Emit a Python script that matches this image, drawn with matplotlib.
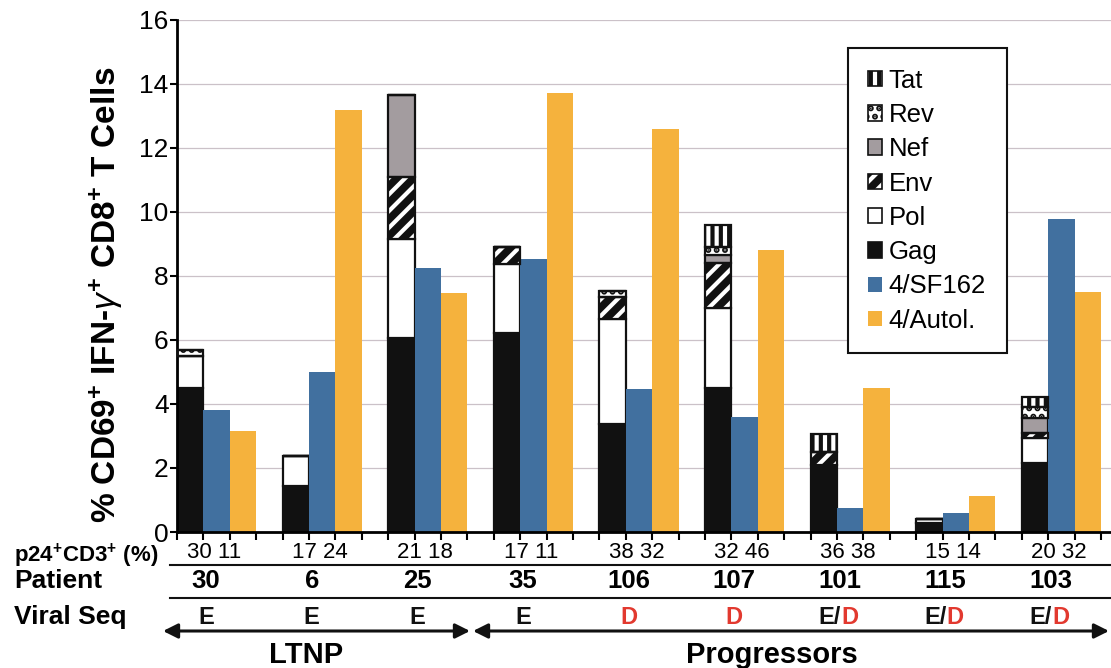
import matplotlib
matplotlib.use("Agg")
import matplotlib.pyplot as plt
from matplotlib.patches import Patch
from matplotlib.legend_handler import HandlerTuple
import matplotlib.transforms as mtransforms

plt.rcParams['font.family'] = ['Liberation Sans', 'DejaVu Sans']
plt.rcParams['mathtext.fontset'] = 'custom'
plt.rcParams['mathtext.rm'] = 'Liberation Sans'
plt.rcParams['mathtext.it'] = 'Liberation Sans:italic'
plt.rcParams['mathtext.bf'] = 'Liberation Sans:bold'
plt.rcParams['hatch.linewidth'] = 3.0

# ---------------- data ----------------
patients = ['30', '6', '25', '35', '106', '107', '101', '115', '103']
gag = [4.5, 1.44, 6.06, 6.22, 3.37, 4.5, 2.1, 0.28, 2.16]
pol = [1.0, 0.94, 3.1, 2.15, 3.29, 2.5, 0.0, 0.14, 0.78]
env = [0.0, 0.0, 1.94, 0.53, 0.69, 1.4, 0.4, 0.0, 0.16]
nef = [0.0, 0.0, 2.56, 0.0, 0.0, 0.25, 0.0, 0.0, 0.46]
rev = [0.2, 0.0, 0.0, 0.0, 0.18, 0.25, 0.0, 0.0, 0.34]
tat = [0.0, 0.0, 0.0, 0.0, 0.0, 0.7, 0.55, 0.0, 0.32]
sf162 = [3.81, 5.0, 8.25, 8.53, 4.46, 3.6, 0.75, 0.6, 9.78]
autol = [3.16, 13.2, 7.47, 13.72, 12.6, 8.81, 4.5, 1.12, 7.5]
p24_sf162 = [30, 17, 21, 17, 38, 32, 36, 15, 20]
p24_autol = [11, 24, 18, 11, 32, 46, 38, 14, 32]
viral_seq = ['E', 'E', 'E', 'E', 'D', 'D', 'E/D', 'E/D', 'E/D']
yticks = [0, 2, 4, 6, 8, 10, 12, 14, 16]

BLUE = '#41709f'
ORANGE = '#f5b23d'
RED = '#e2392f'
NEF = '#a39c9f'

W, H = 1111, 668
fig = plt.figure(figsize=(W / 100, H / 100), dpi=100)
ax = fig.add_axes([177 / W, 1 - 532 / H, (W - 177) / W, (532 - 20) / H])

n = len(patients)
xs = [4 * i for i in range(n)]

# epitope styles: (face, hatch, hatchcolor)
styles = {
    'Gag': ('#111111', None, None),
    'Pol': ('white', None, None),
    'Env': ('#111111', '//', 'white'),
    'Nef': (NEF, None, None),
    'Rev': ('white', '..', '#111111'),
    'Tat': ('white', '||', '#111111'),
}
segments = [('Gag', gag), ('Pol', pol), ('Env', env), ('Nef', nef), ('Rev', rev), ('Tat', tat)]

bottom = [0.0] * n
for name, vals in segments:
    face, hatch, hcol = styles[name]
    if hatch:
        ax.bar(xs, vals, width=1, bottom=bottom, align='edge', color=face,
               hatch=hatch, edgecolor=hcol, linewidth=0, zorder=2)
        ax.bar(xs, vals, width=1, bottom=bottom, align='edge', fill=False,
               edgecolor='#111111', linewidth=1.6, zorder=3)
    else:
        ax.bar(xs, vals, width=1, bottom=bottom, align='edge', color=face,
               edgecolor='#111111', linewidth=1.6, zorder=2)
    bottom = [b + v for b, v in zip(bottom, vals)]

ax.bar([x + 1 for x in xs], sf162, width=1, align='edge', color=BLUE, linewidth=0, zorder=2)
ax.bar([x + 2 for x in xs], autol, width=1, align='edge', color=ORANGE, linewidth=0, zorder=2)

ax.set_xlim(0, (W - 177) / 26.4)
ax.set_ylim(0, 16)
ax.set_yticks(yticks)
ax.set_yticklabels([str(t) for t in yticks], fontsize=19)
ax.set_xticks(range(0, 36))
ax.set_xticklabels([])
ax.tick_params(axis='x', direction='out', length=6, width=1.5)
ax.tick_params(axis='y', direction='out', length=5, width=1.5, pad=1)
for s in ['top', 'right']:
    ax.spines[s].set_visible(False)
for s in ['left', 'bottom']:
    ax.spines[s].set_linewidth(2)
ax.yaxis.grid(True, color='#cbc1c8', linewidth=0.9)
ax.set_axisbelow(True)

fig.text(106 / W, 1 - 295 / H, r'% CD69$^{\mathbf{+}}$ IFN-$\gamma^{\mathbf{+}}$ CD8$^{\mathbf{+}}$ T Cells',
         rotation=90, ha='center', va='center', fontsize=24, fontweight='bold')

# legend
def h(name):
    face, hatch, hcol = styles[name]
    if hatch:
        return (Patch(facecolor=face, hatch=hatch, edgecolor=hcol, linewidth=0),
                Patch(fill=False, edgecolor='#111111', linewidth=1.2))
    return Patch(facecolor=face, edgecolor='#111111', linewidth=1.2)

handles = [h('Tat'), h('Rev'), h('Nef'), h('Env'), h('Pol'), h('Gag'),
           Patch(facecolor=BLUE, linewidth=0), Patch(facecolor=ORANGE, linewidth=0)]
labels = ['Tat', 'Rev', 'Nef', 'Env', 'Pol', 'Gag', '4/SF162', '4/Autol.']
leg = ax.legend(handles, labels, loc='upper left', bbox_to_anchor=(0.718, 0.945),
                borderaxespad=0, fontsize=18.5, labelspacing=0.4, borderpad=0.8,
                handlelength=0.55, handleheight=0.55, handletextpad=0.25,
                fancybox=False, framealpha=1, edgecolor='#111111',
                handler_map={tuple: HandlerTuple(ndivide=1)})
leg.get_frame().set_linewidth(1.5)

# rows below the axes
trans = mtransforms.blended_transform_factory(ax.transData, fig.transFigure)
fy = lambda yp: 1 - yp / H

fig.text(14 / W, fy(556), r'p24$^{\mathbf{+}}$CD3$^{\mathbf{+}}$ (%)', ha='left', va='center',
         fontsize=16, fontweight='bold')
fig.text(14 / W, fy(581), 'Patient', ha='left', va='center', fontsize=19, fontweight='bold')
fig.text(14 / W, fy(617), 'Viral Seq', ha='left', va='center', fontsize=19, fontweight='bold')

for i, x in enumerate(xs):
    fig.text(x + 1.4, fy(552), f'{p24_sf162[i]} {p24_autol[i]}', transform=trans,
             ha='center', va='center', fontsize=16)
    fig.text(x + 1.1, fy(581), patients[i], transform=trans, ha='center', va='center',
             fontsize=18.5, fontweight='bold')
    v = viral_seq[i]
    if v == 'E':
        fig.text(x + 1.1, fy(617), 'E', transform=trans, ha='center', va='center',
                 fontsize=17, fontweight='bold', color='#111111')
    elif v == 'D':
        fig.text(x + 1.1, fy(617), 'D', transform=trans, ha='center', va='center',
                 fontsize=17, fontweight='bold', color=RED)
    else:
        fig.text(x + 1.15, fy(617), 'E/', transform=trans, ha='right', va='center',
                 fontsize=17, fontweight='bold', color='#111111')
        fig.text(x + 1.15, fy(617), 'D', transform=trans, ha='left', va='center',
                 fontsize=17, fontweight='bold', color=RED)

for yp in (565, 598):
    fig.add_artist(plt.Line2D([170 / W, 1.0], [fy(yp), fy(yp)], transform=fig.transFigure,
                              color='#111111', linewidth=1.5))

arrow_kw = dict(arrowstyle='<|-|>', mutation_scale=22, lw=2.2, color='#111111',
                shrinkA=0, shrinkB=0)
ax.annotate('', xy=(470 / W, fy(631)), xytext=(163 / W, fy(631)),
            xycoords='figure fraction', textcoords='figure fraction', arrowprops=arrow_kw,
            annotation_clip=False)
ax.annotate('', xy=(1109 / W, fy(631)), xytext=(473 / W, fy(631)),
            xycoords='figure fraction', textcoords='figure fraction', arrowprops=arrow_kw,
            annotation_clip=False)
fig.text(306 / W, fy(655), 'LTNP', ha='center', va='center', fontsize=21, fontweight='bold')
fig.text(772 / W, fy(655), 'Progressors', ha='center', va='center', fontsize=21, fontweight='bold')

fig.savefig('out.png', dpi=100)
